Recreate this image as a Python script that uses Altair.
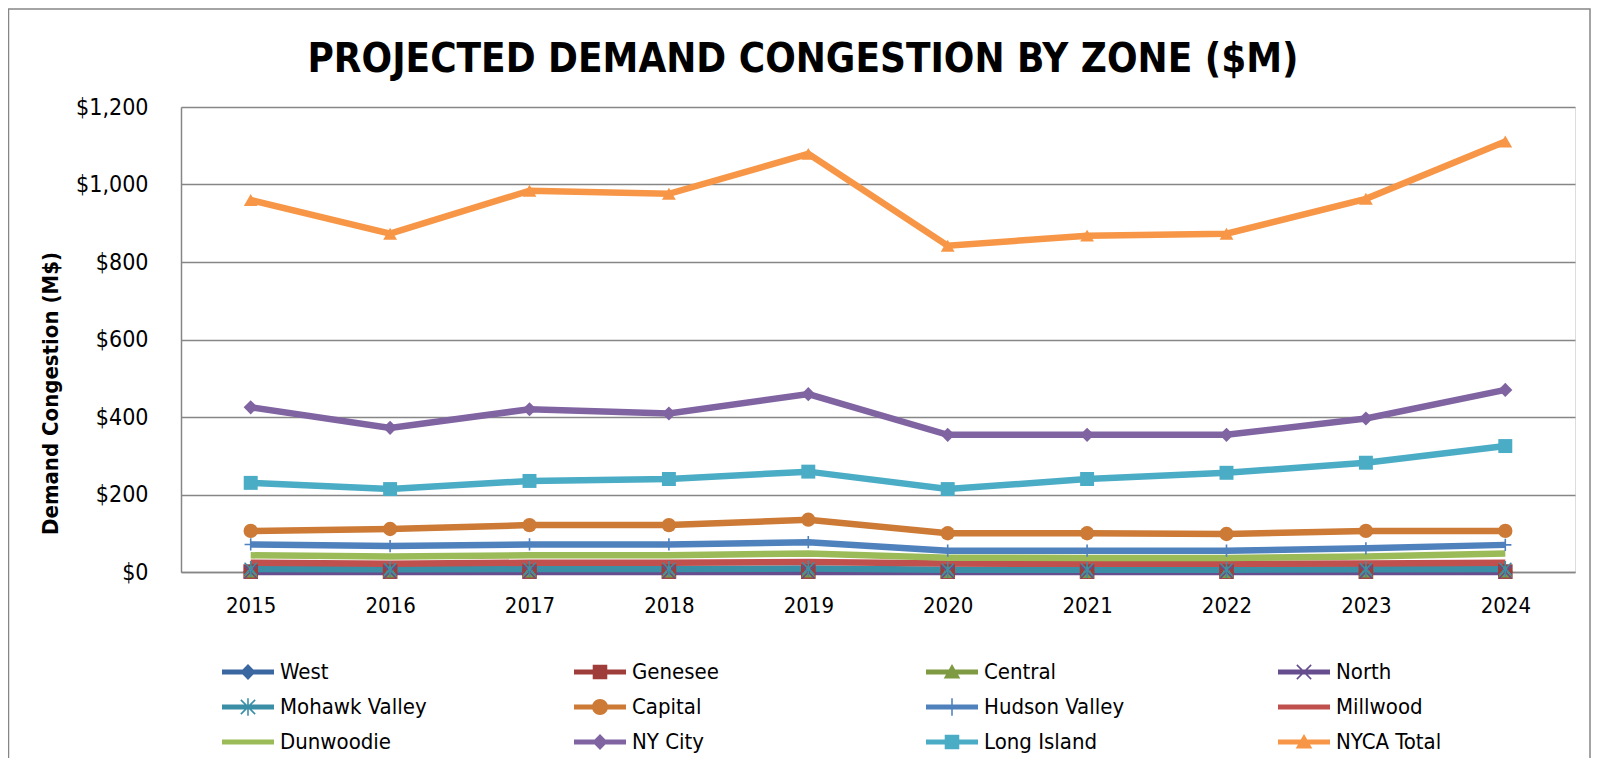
import math
import altair as alt
import pandas as pd

# ---------------- data ----------------
years = ["2015", "2016", "2017", "2018", "2019", "2020", "2021", "2022", "2023", "2024"]
zones = ["West", "Genesee", "Central", "North", "Mohawk Valley", "Capital",
         "Hudson Valley", "Millwood", "Dunwoodie", "NY City", "Long Island", "NYCA Total"]

west = [2, 2, 2, 2, 2, 1, 1, 1, 2, 2]
genesee = [1, 1, 1, 1, 1, 1, 1, 1, 1, 1]
central = [2, 2, 2, 2, 2, 1, 1, 1, 2, 2]
north = [0, 0, 0, 0, 0, 0, 0, 0, 0, 0]
mohawk_valley = [8, 7, 8, 8, 9, 6, 6, 6, 7, 8]
capital = [106, 111, 121, 121, 135, 100, 100, 98, 106, 106]
hudson_valley = [71, 67, 71, 71, 77, 55, 55, 55, 61, 70]
millwood = [24, 21, 24, 24, 26, 22, 21, 21, 22, 24]
dunwoodie = [43, 40, 43, 43, 48, 37, 36, 36, 40, 48]
ny_city = [425, 372, 420, 409, 459, 354, 354, 354, 396, 470]
long_island = [230, 214, 235, 240, 259, 214, 240, 256, 282, 325]
nyca_total = [960, 873, 984, 976, 1079, 842, 868, 873, 963, 1111]

series = [west, genesee, central, north, mohawk_valley, capital,
          hudson_valley, millwood, dunwoodie, ny_city, long_island, nyca_total]

colors = ["#3B67A1", "#9E3D3A", "#7E9B43", "#664E8E", "#3A8FA7", "#CC7A35",
          "#4F81BD", "#C0504D", "#9BBB59", "#8064A2", "#4BACC6", "#F79646"]

rows = []
for z, vals in zip(zones, series):
    for y, v in zip(years, vals):
        rows.append({"year": y, "zone": z, "value": v})
df = pd.DataFrame(rows)

FONT = "DejaVu Sans Condensed, DejaVu Sans, sans-serif"
GRID = "#868686"

# ---------------- marker shapes ----------------
def bar(x1, y1, x2, y2, hw):
    dx, dy = x2 - x1, y2 - y1
    L = math.hypot(dx, dy)
    nx, ny = -dy / L * hw, dx / L * hw
    pts = [(x1 + nx, y1 + ny), (x2 + nx, y2 + ny), (x2 - nx, y2 - ny), (x1 - nx, y1 - ny)]
    area = sum(pts[i][0] * pts[(i + 1) % 4][1] - pts[(i + 1) % 4][0] * pts[i][1] for i in range(4))
    if area < 0:
        pts = pts[::-1]
    return "M" + "L".join(f"{x:.3f},{y:.3f}" for x, y in pts) + "Z"


def circle(r, n=28):
    pts = [(r * math.cos(2 * math.pi * i / n), r * math.sin(2 * math.pi * i / n)) for i in range(n)]
    return "M" + "L".join(f"{x:.3f},{y:.3f}" for x, y in pts) + "Z"


LINE = bar(-2, 0, 2, 0, 0.19)
DIAMOND = "M0,-0.62L0.6,0L0,0.62L-0.6,0Z"
SQUARE = "M-0.56,-0.56L0.56,-0.56L0.56,0.56L-0.56,0.56Z"
TRIANGLE = "M0,-0.62L0.64,0.5L-0.64,0.5Z"
XMARK = bar(-0.55, -0.55, 0.55, 0.55, 0.06) + bar(-0.55, 0.55, 0.55, -0.55, 0.06)
STAR = XMARK + bar(0, -0.68, 0, 0.68, 0.06)
PLUS = bar(0, -0.68, 0, 0.68, 0.06)
CIRCLE = circle(0.62)

legend_symbol = {
    "West": LINE + DIAMOND, "Genesee": LINE + SQUARE, "Central": LINE + TRIANGLE,
    "North": LINE + XMARK, "Mohawk Valley": LINE + STAR, "Capital": LINE + CIRCLE,
    "Hudson Valley": LINE + PLUS, "Millwood": LINE, "Dunwoodie": LINE,
    "NY City": LINE + DIAMOND, "Long Island": LINE + SQUARE, "NYCA Total": LINE + TRIANGLE,
}
# legend fills column by column: reorder so rows read West, Genesee, Central, North ...
legend_order = [zones[r * 4 + c] for c in range(4) for r in range(3)]
legend_colors = [colors[zones.index(z)] for z in legend_order]
legend_paths = [legend_symbol[z] for z in legend_order]

filled_zones = ["West", "Genesee", "Central", "Capital", "NY City", "Long Island", "NYCA Total"]
filled_shapes = ["diamond", "square", "triangle-up", "circle", "diamond", "square", "triangle-up"]
filled_sizes = [220, 190, 280, 380, 340, 300, 520]
filled_colors = [colors[zones.index(z)] for z in filled_zones]

stroked_zones = ["North", "Mohawk Valley", "Hudson Valley"]
stroked_shapes = ["M-1,-1L1,1M-1,1L1,-1", "M-1,-1L1,1M-1,1L1,-1M0,-1.3L0,1.3", "M0,-1L0,1M-1,0L1,0"]
stroked_sizes = [150, 150, 100]
stroked_colors = [colors[zones.index(z)] for z in stroked_zones]

# ---------------- chart ----------------
x_enc = alt.X("year:O", scale=alt.Scale(type="point", padding=0.5), title=None,
              axis=alt.Axis(labelAngle=0, labelFontSize=22, labelColor="black", labelFont=FONT,
                            ticks=False, tickSize=0, domain=True, domainColor=GRID, domainWidth=1.5,
                            grid=False, labelPadding=23))
y_enc = alt.Y("value:Q", scale=alt.Scale(domain=[0, 1200], nice=False),
              title="Demand Congestion (M$)",
              axis=alt.Axis(values=[0, 200, 400, 600, 800, 1000, 1200], format="$,.0f",
                            grid=True, gridColor=GRID, gridWidth=1.5,
                            domain=True, domainColor=GRID, domainWidth=1.5,
                            ticks=False, tickSize=0, labelFontSize=23, labelColor="black",
                            labelFont=FONT, labelPadding=33,
                            titleFont=FONT, titleFontSize=22, titleFontWeight="bold", titleColor="black",
                            titleAngle=270, titleX=-131, titleY=286, titleAlign="center",
                            titleBaseline="middle"))

base = alt.Chart(df).encode(x=x_enc, y=y_enc)

lines = base.mark_line(strokeWidth=6.5).encode(
    color=alt.Color("zone:N", scale=alt.Scale(domain=zones, range=colors), legend=None),
)

filled_pts = base.mark_point(filled=True, opacity=1, strokeWidth=0).encode(
    color=alt.Color("zone:N", scale=alt.Scale(domain=filled_zones, range=filled_colors), legend=None),
    shape=alt.Shape("zone:N", scale=alt.Scale(domain=filled_zones, range=filled_shapes), legend=None),
    size=alt.Size("zone:N", scale=alt.Scale(domain=filled_zones, range=filled_sizes), legend=None),
).transform_filter(alt.FieldOneOfPredicate(field="zone", oneOf=filled_zones))

stroked_pts = base.mark_point(filled=False, opacity=1, strokeWidth=1.6).encode(
    color=alt.Color("zone:N", scale=alt.Scale(domain=stroked_zones, range=stroked_colors), legend=None),
    shape=alt.Shape("zone:N", scale=alt.Scale(domain=stroked_zones, range=stroked_shapes), legend=None),
    size=alt.Size("zone:N", scale=alt.Scale(domain=stroked_zones, range=stroked_sizes), legend=None),
).transform_filter(alt.FieldOneOfPredicate(field="zone", oneOf=stroked_zones))

leg = alt.Legend(orient="none", legendX=54, legendY=552, columns=4, columnPadding=147,
                 rowPadding=11, symbolSize=676, symbolStrokeWidth=0, symbolOpacity=1,
                 labelFontSize=22, labelColor="black", labelFont=FONT, labelOffset=19,
                 labelLimit=400, title=None, gridAlign="all", padding=0)

legend_layer = base.mark_point(filled=True, opacity=1).encode(
    color=alt.Color("zone:N", scale=alt.Scale(domain=legend_order, range=legend_colors), legend=leg),
    shape=alt.Shape("zone:N", scale=alt.Scale(domain=legend_order, range=legend_paths), legend=leg),
).transform_filter("datum.value < -1")

frame = alt.Chart(pd.DataFrame({"f": [0]})).mark_rect(
    filled=False, stroke=GRID, strokeWidth=1.5
).encode(x=alt.value(-172.5), x2=alt.value(1409), y=alt.value(-98), y2=alt.value(900))

chart = alt.layer(frame, lines, filled_pts, stroked_pts, legend_layer).resolve_scale(
    color="independent", shape="independent", size="independent"
).properties(
    width=1394, height=465,
    padding={"left": 173, "top": 99, "right": 17, "bottom": 186},
    autosize=alt.AutoSizeParams(type="none"),
    title=alt.Title("PROJECTED DEMAND CONGESTION BY ZONE ($M)", fontSize=40, fontWeight="bold",
                    font=FONT, color="black", anchor="middle", frame="group", dx=-75,
                    offset=-103.75, baseline="alphabetic"),
).configure_view(strokeWidth=0).configure(font=FONT, background="white")

chart.save("out.html", embed_options={"renderer": "svg", "actions": False})
